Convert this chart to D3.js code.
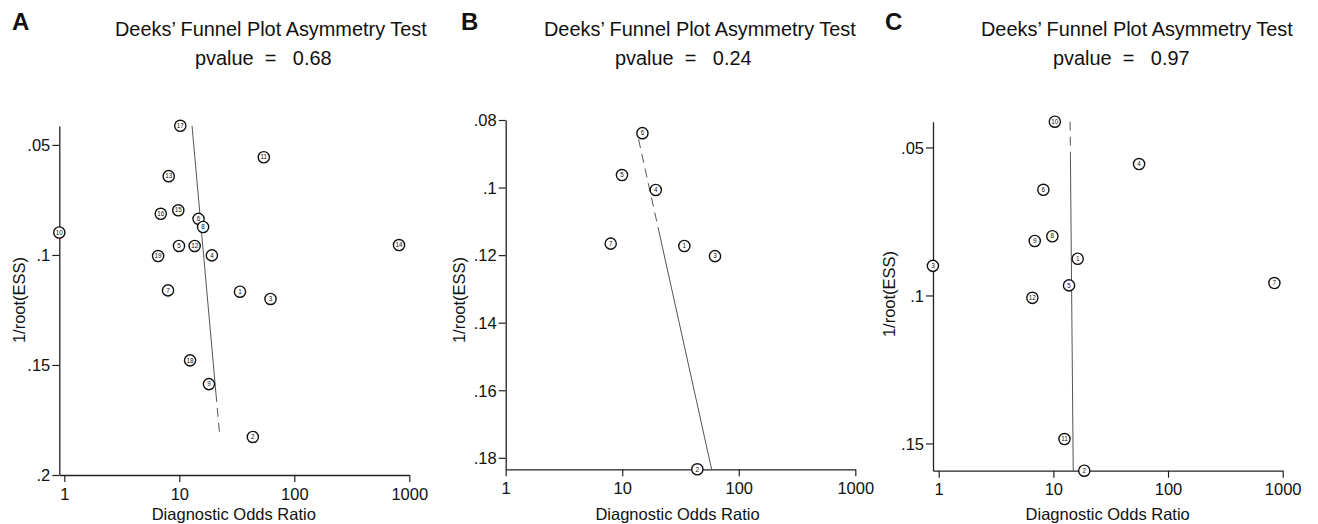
<!DOCTYPE html>
<html>
<head>
<script src="https://d3js.org/d3.v7.min.js"></script>
<style>
  body { margin: 0; background: #fff; }
  svg text { font-family: "Liberation Sans", Arial, sans-serif; fill: #111; }
</style>
</head>
<body>
<svg id="chart" width="1318" height="524"></svg>
<script>
// ---- data ----
var panelLetters = ["A", "B", "C"];
var pvalues = ["0.68", "0.24", "0.97"];
var xTicks = [1, 10, 100, 1000];

// panel A: study id, diagnostic odds ratio, 1/root(ESS)
var idsA = [1, 2, 3, 4, 5, 6, 7, 8, 9, 10, 11, 12, 13, 14, 15, 16, 17, 18, 19];
var dorA = [33.7, 43.6, 62.1, 19.2, 9.94, 14.7, 7.98, 16.1, 18.1, 0.905, 54.3, 13.6, 8.09, 814, 9.8, 6.9, 10.2, 12.4, 6.54];
var essA = [0.1167, 0.1827, 0.1200, 0.1002, 0.0959, 0.0836, 0.1161, 0.0873, 0.1587, 0.0898, 0.0556, 0.0959, 0.0642, 0.0955, 0.0797, 0.0813, 0.0413, 0.1479, 0.1005];
var yTicksA = [0.05, 0.1, 0.15, 0.2];
var yLabelsA = [".05", ".1", ".15", ".2"];
var fitA = [[12.9, 0.0413], [22.5, 0.1825]];

// panel B
var idsB = [1, 2, 3, 4, 5, 6, 7];
var dorB = [34.1, 44.1, 62.5, 19.4, 9.95, 14.9, 7.96];
var essB = [0.1173, 0.1834, 0.1203, 0.1007, 0.0963, 0.0839, 0.1166];
var yTicksB = [0.08, 0.1, 0.12, 0.14, 0.16, 0.18];
var yLabelsB = [".08", ".1", ".12", ".14", ".16", ".18"];
var fitB = [[13.8, 0.0857], [58.5, 0.1834]];

// panel C
var idsC = [1, 2, 3, 4, 5, 6, 7, 8, 9, 10, 11, 12];
var dorC = [16.3, 18.6, 0.89, 55.9, 13.7, 8.18, 846, 9.8, 6.88, 10.3, 12.5, 6.56];
var essC = [0.0876, 0.1592, 0.0900, 0.0556, 0.0966, 0.0643, 0.0958, 0.0800, 0.0816, 0.0413, 0.1485, 0.1008];
var yTicksC = [0.05, 0.1, 0.15];
var yLabelsC = [".05", ".1", ".15"];
var fitC = [[14.0, 0.0413], [14.9, 0.1592]];

// layout of each panel (pixels)
var layout = [
  {axisX: 59.3, t1: 64.3, t1000: 409.3, top: 126, bottom: 475, yDom: [0.0414, 0.2],
   letterX: 12, titleX: 115, pX: 195, yLabX: 25, yLabY: 300, dashFrom: 0.1627, dashTop: false,
   ids: idsA, dor: dorA, ess: essA, yt: yTicksA, yl: yLabelsA, fit: fitA},
  {axisX: 505.7, t1: 505.7, t1000: 855.3, top: 120, bottom: 469.3, yDom: [0.08, 0.1834],
   letterX: 461, titleX: 544, pX: 615, yLabX: 465, yLabY: 300, dashFrom: 0.113, dashTop: true,
   ids: idsB, dor: dorB, ess: essB, yt: yTicksB, yl: yLabelsB, fit: fitB},
  {axisX: 933, t1: 938.7, t1000: 1282.7, top: 121.7, bottom: 470.7, yDom: [0.0413, 0.1592],
   letterX: 885, titleX: 981, pX: 1053, yLabX: 895, yLabY: 294, dashFrom: 0.0531, dashTop: true,
   ids: idsC, dor: dorC, ess: essC, yt: yTicksC, yl: yLabelsC, fit: fitC}
];

var svg = d3.select("#chart");

layout.forEach(function(p, i) {
  var g = svg.append("g");

  // log x scale, extended left so the axis starts at the y axis
  var x = d3.scaleLog().domain([1, 1000]).range([p.t1, p.t1000]);
  x.domain([x.invert(p.axisX), 1000]).range([p.axisX, p.t1000]);
  var y = d3.scaleLinear().domain(p.yDom).range([p.top, p.bottom]);

  // panel letter and title
  g.append("text").attr("x", p.letterX).attr("y", 30)
    .style("font-size", "24px").style("font-weight", "bold").text(panelLetters[i]);
  g.append("text").attr("x", p.titleX).attr("y", 36)
    .style("font-size", "19.9px").text("Deeks\u2019 Funnel Plot Asymmetry Test");
  g.append("text").attr("x", p.pX).attr("y", 65)
    .style("font-size", "19.9px").style("white-space", "pre")
    .text("pvalue  =   " + pvalues[i]);

  // axes
  var xAxis = g.append("g")
    .attr("transform", "translate(0," + p.bottom + ")")
    .call(d3.axisBottom(x).tickValues(xTicks).tickFormat(d3.format("d"))
      .tickSize(7).tickSizeOuter(0).tickPadding(6));
  var yAxis = g.append("g")
    .attr("transform", "translate(" + p.axisX + ",0)")
    .call(d3.axisLeft(y).tickValues(p.yt).tickFormat(function(d, k) { return p.yl[k]; })
      .tickSize(7).tickSizeOuter(0).tickPadding(2));
  [xAxis, yAxis].forEach(function(a) {
    a.select(".domain").attr("stroke", "#222").attr("stroke-width", 1.3);
    a.selectAll(".tick line").attr("stroke", "#222").attr("stroke-width", 1.2);
    a.selectAll(".tick text").style("font-size", "16.5px").attr("fill", "#111");
  });
  yAxis.selectAll(".tick text").attr("dy", "0.35em");

  // axis titles
  g.append("text")
    .attr("x", (p.t1 + p.t1000) / 2 - 3).attr("y", 520)
    .attr("text-anchor", "middle").style("font-size", "16.5px")
    .text("Diagnostic Odds Ratio");
  g.append("text")
    .attr("transform", "translate(" + p.yLabX + "," + p.yLabY + ") rotate(-90)")
    .attr("text-anchor", "middle").style("font-size", "16.5px")
    .text("1/root(ESS)");

  // fitted line, split into a solid and a dashed piece
  var lx0 = Math.log10(p.fit[0][0]), lx1 = Math.log10(p.fit[1][0]);
  var f = (p.dashFrom - p.fit[0][1]) / (p.fit[1][1] - p.fit[0][1]);
  var mid = [Math.pow(10, lx0 + f * (lx1 - lx0)), p.dashFrom];
  var pieces = [
    {pts: [p.fit[0], mid], dashed: p.dashTop},
    {pts: [mid, p.fit[1]], dashed: !p.dashTop}
  ];
  var line = d3.line().x(function(d) { return x(d[0]); }).y(function(d) { return y(d[1]); });
  pieces.forEach(function(s) {
    g.append("path")
      .attr("d", line(s.pts))
      .attr("fill", "none")
      .attr("stroke", "#555")
      .attr("stroke-width", 1)
      .attr("stroke-dasharray", s.dashed ? "9,6" : null);
  });

  // study markers
  var pts = p.ids.map(function(id, k) { return {id: id, dor: p.dor[k], ess: p.ess[k]}; });
  var m = g.selectAll(".study").data(pts).enter().append("g")
    .attr("class", "study")
    .attr("transform", function(d) { return "translate(" + x(d.dor) + "," + y(d.ess) + ")"; });
  m.append("circle").attr("r", 5.6)
    .attr("fill", "#fff").attr("stroke", "#111").attr("stroke-width", 1.4);
  m.append("text")
    .attr("text-anchor", "middle").attr("dy", "0.35em")
    .style("font-size", "6.3px").attr("fill", "#444")
    .text(function(d) { return d.id; });
});
</script>
</body>
</html>
